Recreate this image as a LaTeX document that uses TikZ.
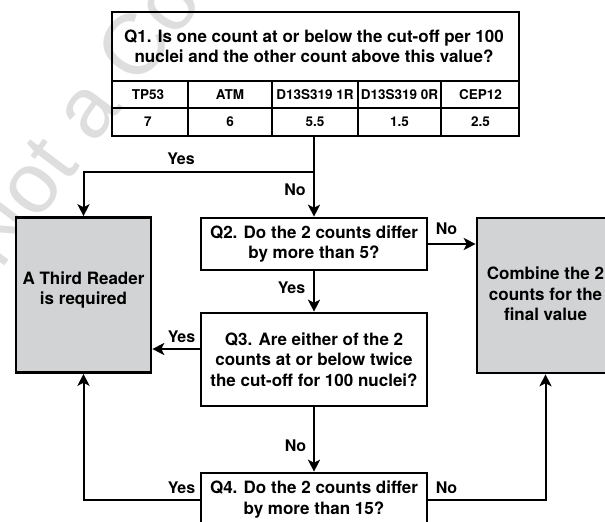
\documentclass[tikz,border=0pt]{standalone}
\usepackage{fontspec}
\setmainfont{TeX Gyre Heros}
\newfontfamily\wmfont{Liberation Sans}
\usetikzlibrary{arrows.meta,calc}
\definecolor{boxgray}{RGB}{209,211,212}
\definecolor{wmgray}{RGB}{222,222,222}
\newcommand\qsize{\bfseries\fontsize{17}{20.5}\selectfont}
\newcommand\tsize{\bfseries\fontsize{13.5}{16}\selectfont}
\newcommand\lsize{\bfseries\fontsize{16}{18}\selectfont}
\tikzset{
  flow/.style={line width=2pt, -{Stealth[length=12pt,width=12pt,inset=3pt]}},
  qbox/.style={draw, line width=2.6pt, minimum width=226pt, align=center, inner sep=0pt, font=\qsize},
  endbox/.style={draw, line width=2.6pt, fill=boxgray, minimum height=155pt},
  endtext/.style={align=center, inner sep=0pt, font=\qsize},
  lbl/.style={font=\lsize, inner sep=0pt},
  cell/.style={font=\tsize, inner sep=0pt},
  thinrule/.style={line width=1.3pt},
}
\begin{document}
\begin{tikzpicture}[x=1pt,y=-1pt]
\useasboundingbox (0,0) rectangle (605,522);
\clip (0,0) rectangle (605,522);
\fill[white] (0,0) rectangle (605,522);

% watermark
\node[rotate=53, anchor=base west, inner sep=0pt, text=wmgray, font=\wmfont\fontsize{86}{86}\selectfont] (wm) at (0,272) {Not a Con};

% Q1 with its table of cut-off values
\node[draw, line width=2.6pt, minimum width=407pt, minimum height=124pt, inner sep=0pt] (q1) at (315.5,74) {};
\node[font=\qsize, align=center, inner sep=0pt] (q1t) at (314,46.5) {Q1. Is one count at or below the cut-off per 100\\nuclei and the other count above this value?};
\draw[line width=2.6pt] (112,81) -- (519,81);
\draw[thinrule] (112,108) -- (519,108);
\foreach \cx in {188,272,358,441} \draw[thinrule] (\cx,81) -- (\cx,136);
\node[cell] (h1) at (148,94.5) {TP53};
\node[cell] (h2) at (230,94.5) {ATM};
\node[cell] (h3) at (315,94.5) {D13S319 1R};
\node[cell] (h4) at (399.5,94.5) {D13S319 0R};
\node[cell] (h5) at (480.5,94.5) {CEP12};
\node[cell] (v1) at (148,122) {7};
\node[cell] (v2) at (230,122) {6};
\node[cell] (v3) at (315,122) {5.5};
\node[cell] (v4) at (399.5,122) {1.5};
\node[cell] (v5) at (480.5,122) {2.5};

% decision boxes
\node[qbox, minimum height=52pt] (q2) at (314,244) {Q2. Do the 2 counts differ\\by more than 5?};
\node[qbox, minimum height=93pt] (q3) at (314,359.5) {Q3. Are either of the 2\\counts at or below twice\\the cut-off for 100 nuclei?};
\node[qbox, minimum height=53pt] (q4) at (314,499.5) {Q4. Do the 2 counts differ\\by more than 15?};

% outcome boxes
\node[endbox, minimum width=135pt] (tr) at (83.5,295) {};
\node[endtext] (trt) at (83.5,290) {A Third Reader\\is required};
\node[endbox, minimum width=137pt] (comb) at (545.5,295.5) {};
\node[endtext] (combt) at (545.5,294) {Combine the 2\\counts for the\\final value};

% connectors
\coordinate (b1) at (314,172);
\coordinate (q3y) at (201,349);
\draw[flow] (q1.south -| q2.north) -- (q2.north);
\draw[flow] (b1) -| (tr.north);
\draw[flow] (q2.east) -- (q2.east -| comb.west);
\draw[flow] (q2.south) -- (q3.north);
\draw[flow] (q3y) -- (q3y -| tr.east);
\draw[flow] (q3.south) -- (q4.north);
\draw[flow] (q4.west) -| (tr.south);
\draw[flow] (q4.east) -| (comb.south);

% branch labels
\node[lbl] (l1) at (181,159) {Yes};
\node[lbl] (l2) at (295,190) {No};
\node[lbl] (l3) at (291.5,288) {Yes};
\node[lbl] (l4) at (446.5,229) {No};
\node[lbl] (l5) at (181.5,337) {Yes};
\node[lbl] (l6) at (295.5,446) {No};
\node[lbl] (l7) at (181.5,488) {Yes};
\node[lbl] (l8) at (446.5,488) {No};
\end{tikzpicture}
\end{document}
